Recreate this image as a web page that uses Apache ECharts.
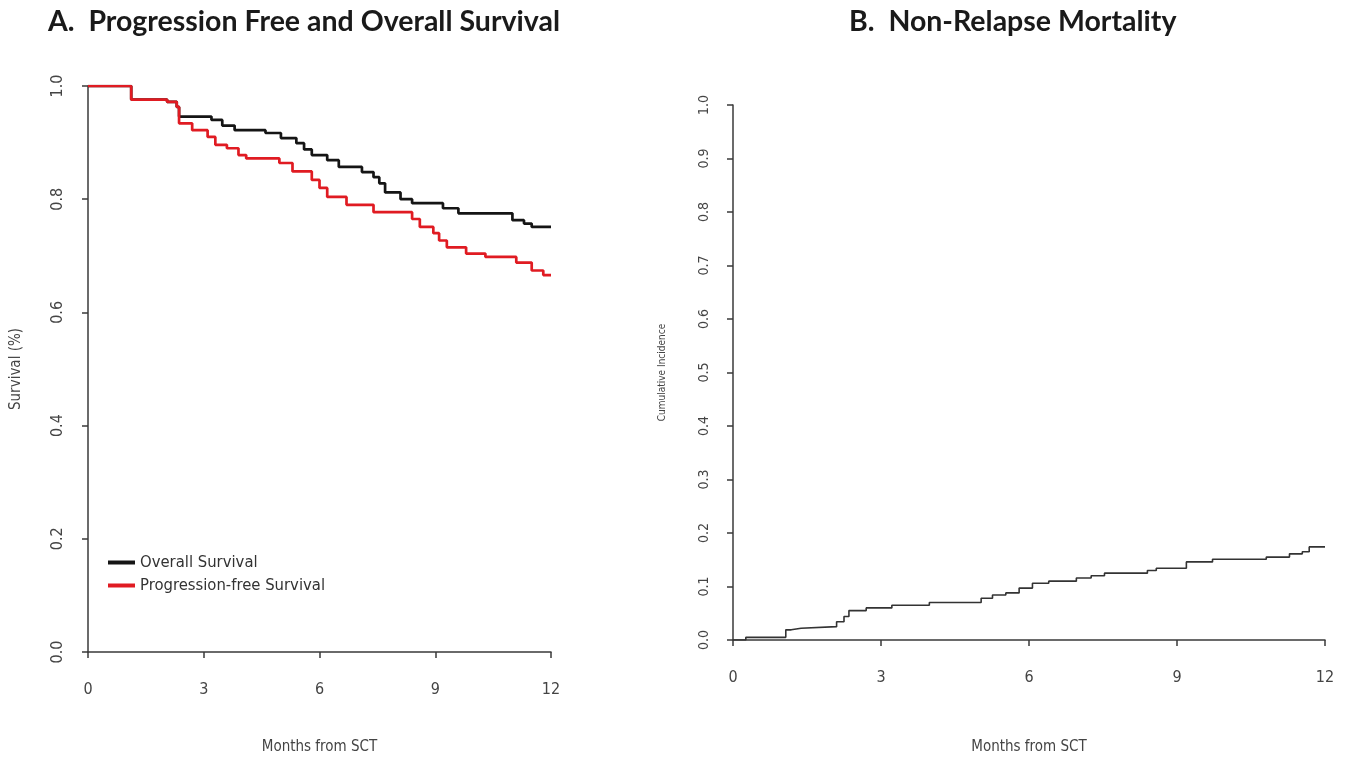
<!DOCTYPE html>
<html>
<head>
<meta charset="utf-8">
<script src="https://cdn.jsdelivr.net/npm/echarts@6/dist/echarts.min.js"></script>
<style>
  html, body { margin: 0; padding: 0; background: #fff; }
  #chart { width: 1358px; height: 769px; }
</style>
</head>
<body>
<div id="chart"></div>
<script>
// ---- Data ----
const xTicks = [0, 3, 6, 9, 12];
const yTicksA = [0, 0.2, 0.4, 0.6, 0.8, 1.0];
const yTicksB = [0, 0.1, 0.2, 0.3, 0.4, 0.5, 0.6, 0.7, 0.8, 0.9, 1.0];

const osTimes  = [0, 1.12, 2.05, 2.3, 2.36, 3.2, 3.48, 3.8, 4.6, 5.0, 5.4, 5.6, 5.8, 6.2, 6.5, 7.1, 7.4, 7.55, 7.7, 8.1, 8.4, 9.2, 9.6, 11.0, 11.3, 11.5, 12];
const osValues = [1.0, 0.976, 0.972, 0.963, 0.946, 0.940, 0.930, 0.922, 0.917, 0.908, 0.899, 0.888, 0.878, 0.869, 0.857, 0.848, 0.839, 0.828, 0.812, 0.800, 0.793, 0.784, 0.775, 0.763, 0.757, 0.751, 0.751];

const pfsTimes  = [0, 1.12, 2.05, 2.3, 2.36, 2.7, 3.1, 3.3, 3.6, 3.9, 4.1, 4.96, 5.3, 5.8, 6.0, 6.2, 6.7, 7.4, 8.4, 8.6, 8.95, 9.1, 9.3, 9.8, 10.3, 11.1, 11.5, 11.8, 12];
const pfsValues = [1.0, 0.976, 0.972, 0.963, 0.934, 0.922, 0.910, 0.896, 0.890, 0.878, 0.872, 0.864, 0.849, 0.834, 0.820, 0.804, 0.790, 0.777, 0.765, 0.751, 0.740, 0.727, 0.715, 0.704, 0.698, 0.688, 0.674, 0.666, 0.666];

const nrmTimes  = [0, 0.26, 1.07, 1.18, 1.38, 2.1, 2.25, 2.35, 2.7, 3.22, 3.98, 5.03, 5.26, 5.53, 5.8, 6.07, 6.4, 6.96, 7.26, 7.53, 8.4, 8.58, 9.19, 9.72, 10.81, 11.28, 11.54, 11.68, 12];
const nrmValues = [0, 0.005, 0.019, 0.022, 0.025, 0.034, 0.044, 0.055, 0.060, 0.065, 0.070, 0.078, 0.084, 0.088, 0.097, 0.106, 0.110, 0.116, 0.120, 0.125, 0.130, 0.134, 0.146, 0.151, 0.155, 0.161, 0.165, 0.174, 0.174];

const seriesNames = ['Overall Survival', 'Progression-free Survival'];
const titleA = 'A.  Progression Free and Overall Survival';
const titleB = 'B.  Non-Relapse Mortality';
const xName = 'Months from SCT';
const yNameA = 'Survival (%)';
const yNameB = 'Cumulative Incidence';

// ---- Chart ----
const pair = (ts, vs) => ts.map((t, i) => [t, vs[i]]);
const narrow = '"Liberation Sans Narrow", "Arial Narrow", "DejaVu Sans Condensed", sans-serif';
const axisColor = '#3a3a3a';
const textColor = '#444';

function xAxisCfg(gridIndex, gap) {
  return {
    type: 'value', gridIndex, min: 0, max: 12, interval: 3,
    name: xName, nameLocation: 'middle', nameGap: gap,
    nameTextStyle: { fontFamily: narrow, fontSize: 15, color: textColor },
    axisLine: { show: true, lineStyle: { color: axisColor, width: 1.5 } },
    axisTick: { show: true, length: 6, lineStyle: { color: axisColor, width: 1.5 } },
    axisLabel: { margin: 30, fontFamily: narrow, fontSize: 16, color: textColor,
                 formatter: v => xTicks.includes(v) ? String(v) : '' },
    splitLine: { show: false }
  };
}
function yAxisCfg(gridIndex, interval, name, nameSize, gap, labelSize) {
  return {
    type: 'value', gridIndex, min: 0, max: 1, interval,
    name, nameLocation: 'middle', nameGap: gap,
    nameTextStyle: { fontFamily: narrow, fontSize: nameSize, color: textColor },
    axisLine: { show: true, lineStyle: { color: axisColor, width: 1.5 } },
    axisTick: { show: true, length: 6, lineStyle: { color: axisColor, width: 1.5 } },
    axisLabel: { rotate: 90, margin: 22, fontFamily: narrow, fontSize: labelSize, color: textColor,
                 formatter: v => v.toFixed(1) },
    splitLine: { show: false }
  };
}

const titleFont = { fontFamily: 'Lato, "Open Sans", sans-serif', fontWeight: 'bold', fontSize: 28.5, color: '#1a1a1a' };

const chart = echarts.init(document.getElementById('chart'));
chart.setOption({
  animation: false,
  backgroundColor: '#fff',
  title: [
    { text: titleA, left: 43, top: 2, textStyle: titleFont },
    { text: titleB, left: 844, top: 2, textStyle: titleFont }
  ],
  legend: {
    data: seriesNames, orient: 'vertical', left: 103, top: 549,
    icon: 'rect', itemWidth: 27, itemHeight: 4, itemGap: 6,
    textStyle: { fontFamily: narrow, fontSize: 16.5, color: '#333', lineHeight: 17, padding: [0, 0, 0, 0] }
  },
  grid: [
    { left: 88, top: 86, width: 463, height: 566, containLabel: false, outerBoundsMode: 'none' },
    { left: 733, top: 105, width: 592, height: 535, containLabel: false, outerBoundsMode: 'none' }
  ],
  xAxis: [ xAxisCfg(0, 88), xAxisCfg(1, 100) ],
  yAxis: [ yAxisCfg(0, 0.2, yNameA, 15, 64, 16), yAxisCfg(1, 0.1, yNameB, 10, 66, 14) ],
  series: [
    { name: seriesNames[0], type: 'line', xAxisIndex: 0, yAxisIndex: 0, step: 'end',
      showSymbol: false, symbol: 'none', color: '#151515',
      lineStyle: { color: '#151515', width: 2.7 }, data: pair(osTimes, osValues), z: 3 },
    { name: seriesNames[1], type: 'line', xAxisIndex: 0, yAxisIndex: 0, step: 'end',
      showSymbol: false, symbol: 'none', color: '#e01b22',
      lineStyle: { color: '#e01b22', width: 2.7 }, data: pair(pfsTimes, pfsValues), z: 4 },
    { name: 'Non-Relapse Mortality', type: 'line', xAxisIndex: 1, yAxisIndex: 1, step: 'end',
      showSymbol: false, symbol: 'none', color: '#333',
      lineStyle: { color: '#333', width: 1.6 }, data: pair(nrmTimes, nrmValues) }
  ]
});
</script>
</body>
</html>
